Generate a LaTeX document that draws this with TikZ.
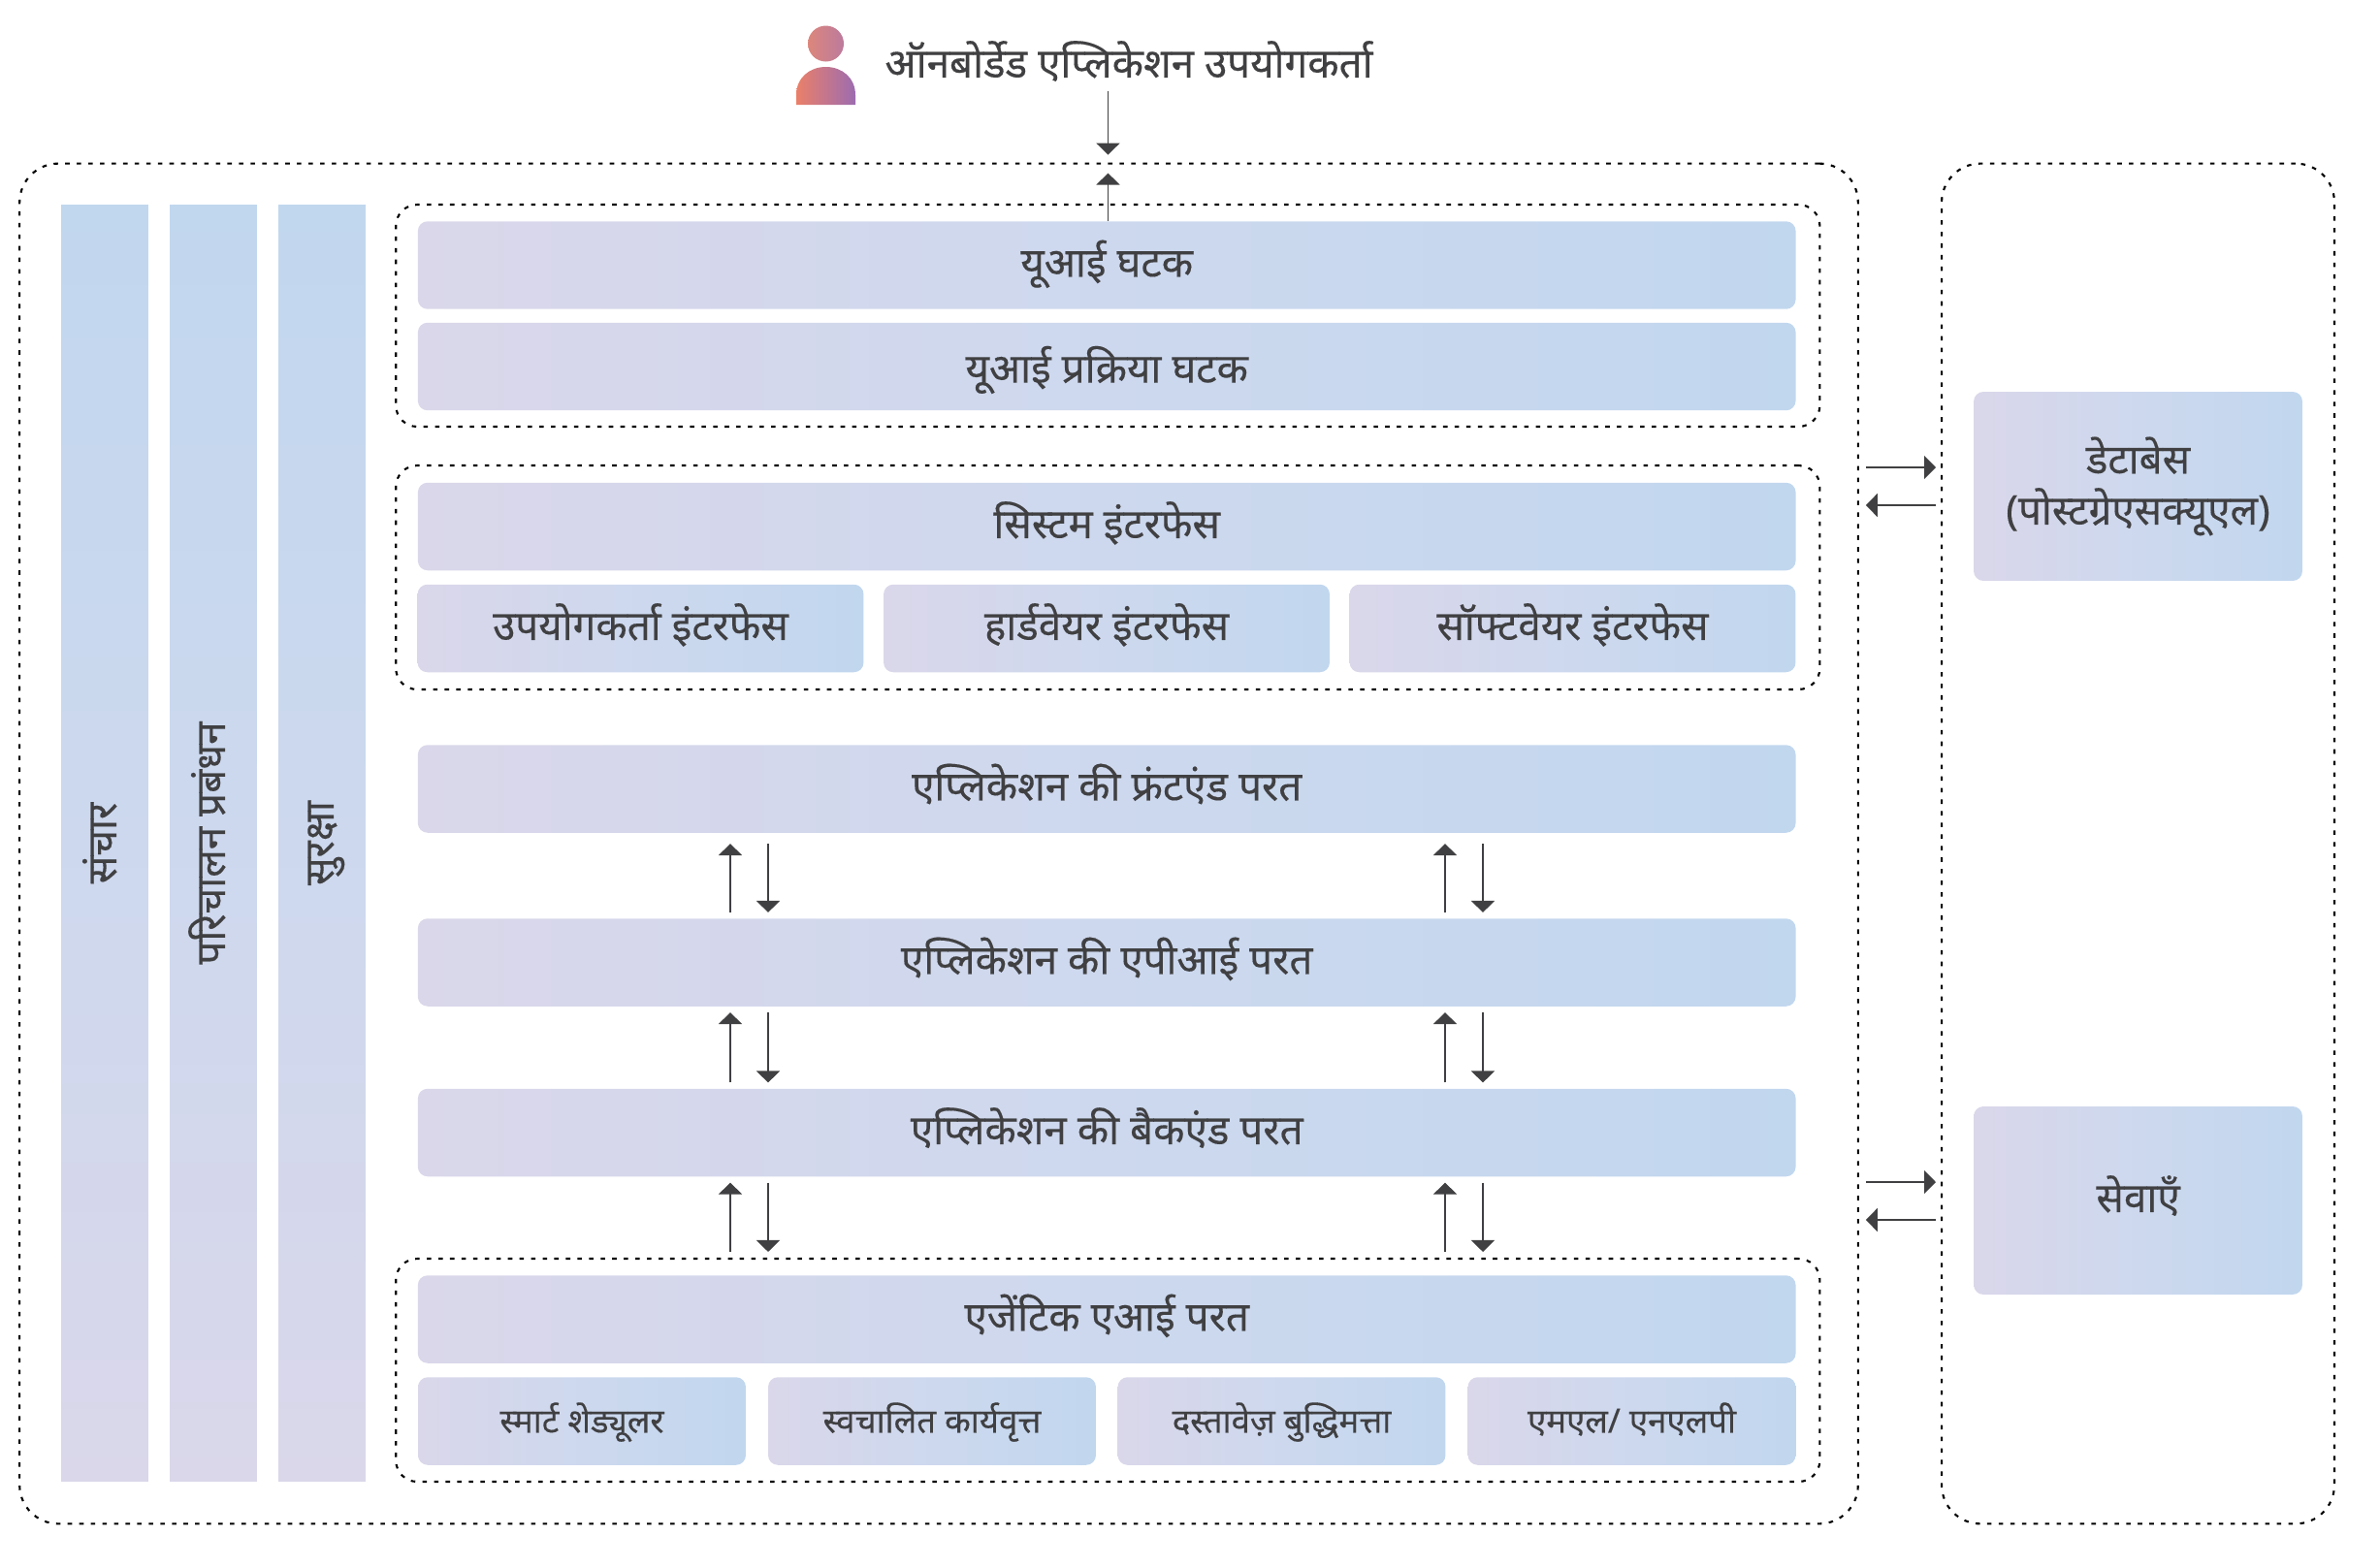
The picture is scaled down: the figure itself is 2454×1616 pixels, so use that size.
\documentclass[tikz,border=0pt]{standalone}
\usepackage{fontspec}
\setmainfont[Script=Devanagari,FakeBold=0.25]{Noto Sans}
\usetikzlibrary{positioning, calc, arrows.meta}
\definecolor{lavband}{HTML}{DAD7EA}
\definecolor{midband}{HTML}{CDD8EE}
\definecolor{blueband}{HTML}{C1D7EE}
\definecolor{inkgray}{HTML}{404042}
\definecolor{headleft}{HTML}{DC877C}
\definecolor{headright}{HTML}{BC7A9C}
\definecolor{bodyleft}{HTML}{EA8069}
\definecolor{bodyright}{HTML}{9C6CB0}
\tikzset{
        band-base/.style={
            left color=lavband, right color=blueband, middle color=midband, rounded corners=.2cm,
            minimum height=1.81cm, inner sep=0pt, text=inkgray, align=center,
            font=\fontsize{24}{30}\selectfont
        },
        band/.style={band-base, text height=20pt, text depth=6.4pt},
        wide-band/.style={band, minimum width=28.42cm},
        third-band/.style={band, minimum width=9.2cm},
        fourth-band/.style={band, minimum width=6.76cm, font=\fontsize{19.8}{24}\selectfont},
        side-band/.style={band, minimum width=6.78cm},
        strip-band/.style={band, rotate=90, top color=blueband, bottom color=lavband, middle color=midband, rounded corners=0pt, minimum width=26.34cm, minimum height=1.8cm},
        outer-frame/.style={draw, line width=1.2pt, dash pattern=on 2.6pt off 4.2pt, rounded corners=.8cm, inner sep=0pt},
        inner-frame/.style={draw, line width=1.2pt, dash pattern=on 2.6pt off 4.2pt, rounded corners=.44cm, minimum width=29.37cm, inner sep=0pt},
        flow/.style={draw=inkgray, line width=1.1pt, -{Triangle[length=.24cm,width=.48cm]}, shorten <=.12cm, shorten >=.12cm},
}

\begin{document}
\begin{tikzpicture}[x=.02cm, y=-.02cm]
        \useasboundingbox (0,0) rectangle (2454,1616);

        % DRAW FRAMES
        \node[outer-frame, minimum width=37.92cm, minimum height=28.06cm] (OUTER) at (968,870)  {};
        \node[outer-frame, minimum width=8.1cm,   minimum height=28.06cm] (RIGHT) at (2204.5,870) {};
        \node[inner-frame, minimum height=4.58cm] (FRAMEUI)  at (1142.3,325.5) {};
        \node[inner-frame, minimum height=4.62cm] (FRAMESYS) at (1142.3,595.5) {};
        \node[inner-frame, minimum height=4.6cm]  (FRAMEAI)  at (1142.3,1413)  {};

        % DRAW STRIPS
        \node[strip-band] (COMM) at (108,869.5) {संचार};
        \node[strip-band] (OPS)  at (220,869.5) {परिचालन प्रबंधन};
        \node[strip-band] (SEC)  at (332,869.5) {सुरक्षा};

        % DRAW BANDS
        \node[wide-band]   (UIC)  at (1141.2,273.5) {यूआई घटक};
        \node[wide-band, text depth=1.1pt] (UIP) at (1141.2,378) {यूआई प्रक्रिया घटक};
        \node[wide-band]   (SYS)  at (1141.2,543)   {सिस्टम इंटरफेस};
        \node[third-band]  (USR)  at (660.5,648)  {उपयोगकर्ता इंटरफेस};
        \node[third-band]  (HW)   at (1141,648)   {हार्डवेयर इंटरफेस};
        \node[third-band]  (SW)   at (1621.5,648) {सॉफ्टवेयर इंटरफेस};
        \node[wide-band]   (FE)   at (1141.2,813.5) {एप्लिकेशन की फ्रंटएंड परत};
        \node[wide-band]   (API)  at (1141.2,992.5) {एप्लिकेशन की एपीआई परत};
        \node[wide-band]   (BE)   at (1141.2,1168)  {एप्लिकेशन की बैकएंड परत};
        \node[wide-band]   (AI)   at (1141.2,1360.5) {एजेंटिक एआई परत};
        \node[fourth-band] (SMART) at (600,1465.5)    {स्मार्ट शेड्यूलर};
        \node[fourth-band] (MINS)  at (961,1465.5)    {स्वचालित कार्यवृत्त};
        \node[fourth-band] (DOCS)  at (1321.5,1465.5) {दस्तावेज़ बुद्धिमत्ता};
        \node[fourth-band] (NLP)   at (1682.5,1465.5) {एमएल/ एनएलपी};
        \node[side-band, text height=, text depth=, minimum height=3.9cm] (DB)   at (2204.5,501.5) {डेटाबेस\\(पोस्टग्रेएसक्यूएल)};
        \node[side-band, minimum height=3.88cm] (SERV) at (2204.5,1238)  {सेवाएँ};

        % DRAW USER
        \shade[left color=headleft, right color=headright] (851.5,45) ellipse [x radius=18.5, y radius=18.5];
        \shade[left color=bodyleft, right color=bodyright] (821,108) -- (821,98) .. controls (821,80) and (835,69) .. (851.5,69) .. controls (868,69) and (882,80) .. (882,98) -- (882,108) -- cycle;
        \node[text=inkgray, font=\fontsize{24}{30}\selectfont, inner sep=0pt, text height=20pt, text depth=6.4pt] (USER) at (1164,68) {ऑनबोर्डेड एप्लिकेशन उपयोगकर्ता};

        % COLUMNS FOR THE ARROWS
        \coordinate (COLTOP) at (1142.5,94);
        \coordinate (COLA)   at (753,0);
        \coordinate (COLB)   at (792,0);
        \coordinate (COLC)   at (1490,0);
        \coordinate (COLD)   at (1529,0);
        \coordinate (DBOUT)  at (0,482);
        \coordinate (DBIN)   at (0,521);
        \coordinate (SVOUT)  at (0,1219);
        \coordinate (SVIN)   at (0,1258);

        % CONNECT USER AND FRAME
        \draw [flow, shorten <=0pt, shorten >=.16cm] (COLTOP) -- (OUTER.north -| COLTOP);
        \draw [flow, shorten <=0pt, shorten >=.22cm] (UIC.north -| COLTOP) -- (OUTER.north -| COLTOP);

        % CONNECT FRONTEND AND API
        \draw [flow, shorten >=.22cm] (API.north -| COLA) -- (FE.south -| COLA);
        \draw [flow, shorten <=.22cm] (FE.south -| COLB) -- (API.north -| COLB);
        \draw [flow, shorten >=.22cm] (API.north -| COLC) -- (FE.south -| COLC);
        \draw [flow, shorten <=.22cm] (FE.south -| COLD) -- (API.north -| COLD);

        % CONNECT API AND BACKEND
        \draw [flow] (BE.north -| COLA) -- (API.south -| COLA);
        \draw [flow] (API.south -| COLB) -- (BE.north -| COLB);
        \draw [flow] (BE.north -| COLC) -- (API.south -| COLC);
        \draw [flow] (API.south -| COLD) -- (BE.north -| COLD);

        % CONNECT BACKEND AND AGENTIC
        \draw [flow] (FRAMEAI.north -| COLA) -- (BE.south -| COLA);
        \draw [flow] (BE.south -| COLB) -- (FRAMEAI.north -| COLB);
        \draw [flow] (FRAMEAI.north -| COLC) -- (BE.south -| COLC);
        \draw [flow] (BE.south -| COLD) -- (FRAMEAI.north -| COLD);

        % CONNECT SIDE BOXES
        \draw [flow, shorten <=.14cm, shorten >=.1cm] (OUTER.east |- DBOUT) -- (RIGHT.west |- DBOUT);
        \draw [flow, shorten <=.1cm, shorten >=.14cm] (RIGHT.west |- DBIN) -- (OUTER.east |- DBIN);
        \draw [flow, shorten <=.14cm, shorten >=.1cm] (OUTER.east |- SVOUT) -- (RIGHT.west |- SVOUT);
        \draw [flow, shorten <=.1cm, shorten >=.14cm] (RIGHT.west |- SVIN) -- (OUTER.east |- SVIN);

    \end{tikzpicture}
\end{document}
